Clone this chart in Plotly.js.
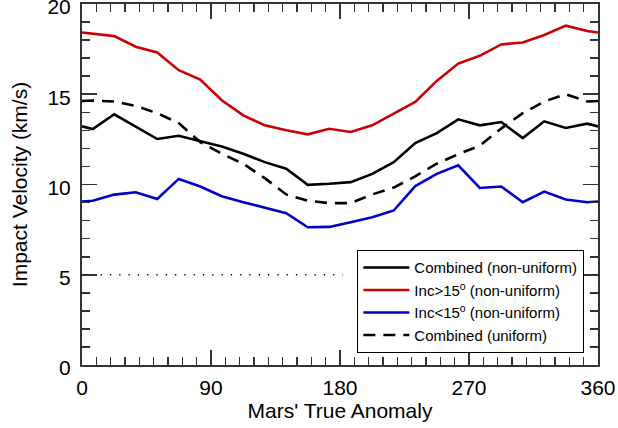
<!DOCTYPE html>
<html>
<head>
<meta charset="utf-8">
<script src="https://cdn.plot.ly/plotly-3.0.1.min.js"></script>
<style>
html,body{margin:0;padding:0;background:#fff;}
#chart{width:618px;height:428px;}
</style>
</head>
<body>
<div id="chart"></div>
<script>
// Mars' true anomaly (degrees)
const anomaly = [0, 7.5, 22.5, 37.5, 52.5, 67.5, 82.5, 97.5, 112.5, 127.5, 142.5, 157.5, 172.5,
  187.5, 202.5, 217.5, 232.5, 247.5, 262.5, 277.5, 292.5, 307.5, 322.5, 337.5, 352.5, 360];

// Impact velocity (km/s)
const combinedNonUniform = [13.22, 13.07, 13.89, 13.22, 12.52, 12.70, 12.41, 12.11, 11.70, 11.24, 10.87, 9.98, 10.04,
  10.13, 10.59, 11.24, 12.30, 12.85, 13.61, 13.28, 13.46, 12.57, 13.50, 13.13, 13.37, 13.22];
const incHighNonUniform = [18.42, 18.35, 18.22, 17.63, 17.31, 16.33, 15.81, 14.67, 13.83, 13.28, 13.00, 12.78, 13.09,
  12.91, 13.28, 13.93, 14.57, 15.74, 16.70, 17.13, 17.76, 17.87, 18.28, 18.80, 18.50, 18.42];
const incLowNonUniform = [9.06, 9.10, 9.44, 9.57, 9.20, 10.31, 9.89, 9.35, 9.02, 8.70, 8.41, 7.63, 7.65,
  7.91, 8.19, 8.56, 9.91, 10.59, 11.06, 9.81, 9.89, 9.02, 9.61, 9.17, 9.02, 9.06];
const combinedUniform = [14.63, 14.65, 14.60, 14.35, 13.95, 13.40, 12.35, 11.70, 11.15, 10.35, 9.45, 9.10, 8.97,
  8.97, 9.45, 9.83, 10.45, 11.15, 11.68, 12.15, 13.10, 13.95, 14.60, 15.00, 14.60, 14.63];

// Dotted reference line
const refX = [0, 182];
const refY = [5, 5];

const seriesNames = ["Combined (non-uniform)", "Inc>15<sup>o</sup> (non-uniform)",
  "Inc<15<sup>o</sup> (non-uniform)", "Combined (uniform)"];

const xTicks = [0, 90, 180, 270, 360];
const yTicks = [0, 5, 10, 15, 20];

const FONT = "'Liberation Sans', Arial, Helvetica, sans-serif";
const axisColor = "#333333";

const traces = [
  {x: refX, y: refY, mode: "lines", showlegend: false, hoverinfo: "skip",
   line: {color: "#000", width: 1.3, dash: "1.3px,8px"}},
  {x: anomaly, y: combinedNonUniform, mode: "lines", name: seriesNames[0],
   line: {color: "#000000", width: 2.6}},
  {x: anomaly, y: incHighNonUniform, mode: "lines", name: seriesNames[1],
   line: {color: "#cc0000", width: 2.6}},
  {x: anomaly, y: incLowNonUniform, mode: "lines", name: seriesNames[2],
   line: {color: "#0000cc", width: 2.6}},
  {x: anomaly, y: combinedUniform, mode: "lines", name: seriesNames[3],
   line: {color: "#000000", width: 2.6, dash: "12px,8px"}}
];

const axisCommon = {
  showgrid: false, zeroline: false, showline: true, linecolor: axisColor, linewidth: 2,
  mirror: "ticks", ticks: "inside", ticklen: 15, tickwidth: 1.6, tickcolor: axisColor,
  tickfont: {family: FONT, size: 21, color: "#000"},
  ticklabeloverflow: "allow",
  minor: {ticks: "inside", ticklen: 8, tickwidth: 1.6, tickcolor: axisColor, showgrid: false}
};

const layout = {
  width: 618, height: 428,
  margin: {l: 82, r: 20, t: 4, b: 63},
  paper_bgcolor: "#fff", plot_bgcolor: "#fff",
  font: {family: FONT, color: "#000"},
  xaxis: Object.assign({}, axisCommon, {
    range: [0, 360], tickvals: xTicks, ticktext: xTicks.map(String),
    ticklabelstandoff: 3,
    minor: Object.assign({}, axisCommon.minor, {dtick: 10, tick0: 0}),
    title: {text: "Mars' True Anomaly", font: {family: FONT, size: 21, color: "#000"}, standoff: 4}
  }),
  yaxis: Object.assign({}, axisCommon, {
    range: [0, 20], tickvals: yTicks, ticktext: yTicks.map(String),
    ticklabelstandoff: 5, ticklabelshift: 3,
    minor: Object.assign({}, axisCommon.minor, {dtick: 1, tick0: 0}),
    title: {text: "Impact Velocity (km/s)", font: {family: FONT, size: 21, color: "#000"}, standoff: 14}
  }),
  legend: {
    x: 0.973, xanchor: "right", y: 0.3186, yanchor: "top",
    bgcolor: "#fff", bordercolor: "#000", borderwidth: 1.3,
    font: {family: FONT, size: 15, color: "#000"},
    itemwidth: 46, tracegroupgap: 0
  },
  showlegend: true
};

Plotly.newPlot("chart", traces, layout, {displayModeBar: false, staticPlot: true});
</script>
</body>
</html>
